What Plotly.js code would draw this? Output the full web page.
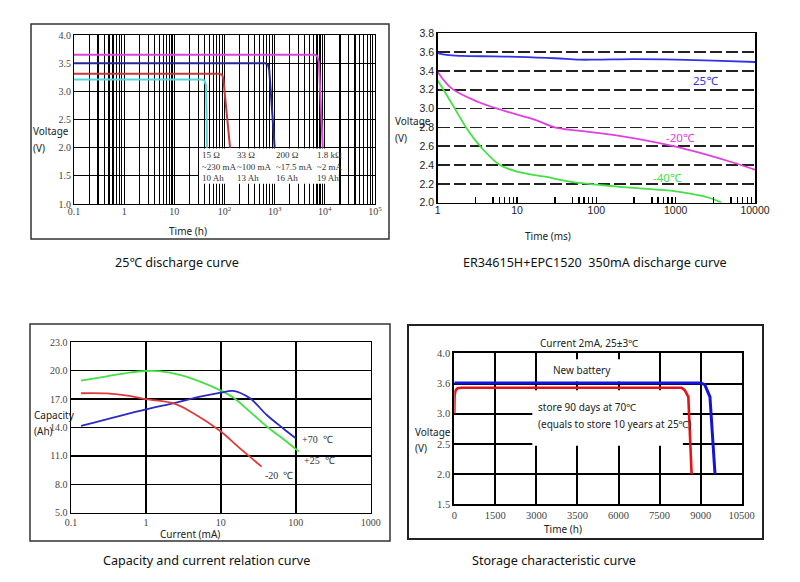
<!DOCTYPE html>
<html>
<head>
<meta charset="utf-8">
<script src="https://cdn.plot.ly/plotly-3.0.1.min.js"></script>
<style>html,body{margin:0;padding:0;background:#fff;}#chart{width:800px;height:582px;}</style>
</head>
<body>
<div id="chart"></div>
<script>
// ---------- Panel 1: 25℃ discharge curve ----------
const p1CyanT = [0.1, 35, 40, 43, 44, 44.5];
const p1CyanV = [3.21, 3.21, 3.19, 3.10, 2.60, 2.00];
const p1RedT = [0.1, 80, 90, 95, 129];
const p1RedV = [3.31, 3.31, 3.29, 3.22, 2.00];
const p1BlueT = [0.1, 650, 740, 780, 1000];
const p1BlueV = [3.50, 3.50, 3.47, 3.38, 2.00];
const p1MagT = [0.1, 6300, 7100, 7600, 9100];
const p1MagV = [3.65, 3.65, 3.62, 3.52, 2.00];
const p1Decades = [0.1, 1, 10, 100, 1000, 10000, 100000];
const p1DecadeLabels = ['0.1', '1', '10', '10<sup>2</sup>', '10<sup>3</sup>', '10<sup>4</sup>', '10<sup>5</sup>'];
const p1MinorMult = [2, 3, 4, 5, 6, 7, 8, 9];
const p1YTicks = [1.0, 1.5, 2.0, 2.5, 3.0, 3.5, 4.0];
const p1Notes = [
  '15 Ω<br>~230 mA<br>10 Ah',
  '33 Ω<br>~100 mA<br>13 Ah',
  '200 Ω<br>~17.5 mA<br>16 Ah',
  '1.8 kΩ<br>~2 mA<br>19 Ah'
];

// ---------- Panel 2: ER34615H+EPC1520 350mA ----------
const p2BlueT = [1, 1.3, 2, 5, 10, 30, 60, 100, 300, 1000, 3000, 10000];
const p2BlueV = [3.59, 3.57, 3.56, 3.555, 3.55, 3.535, 3.52, 3.52, 3.525, 3.52, 3.51, 3.495];
const p2MagT = [1, 1.5, 3.2, 6.4, 17, 30, 59, 163, 1000, 4900, 10000];
const p2MagV = [3.39, 3.215, 3.073, 2.985, 2.88, 2.80, 2.765, 2.72, 2.595, 2.435, 2.35];
const p2GreenT = [1, 1.5, 2.4, 3.6, 6.1, 10, 22.6, 54, 265, 1000, 2700, 3800];
const p2GreenV = [3.30, 3.056, 2.77, 2.58, 2.40, 2.33, 2.276, 2.215, 2.16, 2.12, 2.05, 2.00];
const p2Major = [1, 10, 100, 1000, 10000];
const p2MajorLabels = ['1', '10', '100', '1000', '10000'];
const p2MinorMult = [3, 5, 6, 7, 8, 9];
const p2Labels = ['25℃', '-20℃', '-40℃'];

// ---------- Panel 3: Capacity and current ----------
const p3GreenI = [0.136, 0.3, 0.6, 1, 1.5, 3, 5.3, 10, 14.5, 25, 41, 70, 110];
const p3GreenC = [18.95, 19.4, 19.8, 19.97, 19.95, 19.5, 18.84, 17.9, 17.19, 15.6, 14.1, 12.7, 11.45];
const p3BlueI = [0.136, 1, 2.45, 5.3, 10, 14.5, 24.5, 41, 68, 100];
const p3BlueC = [14.16, 15.92, 16.6, 17.26, 17.68, 17.86, 17.08, 15.32, 13.9, 12.86];
const p3RedI = [0.136, 0.3, 0.6, 1, 2.45, 4.3, 9.7, 18, 35];
const p3RedC = [17.62, 17.6, 17.35, 17.0, 16.5, 15.5, 13.65, 11.8, 9.87];
const p3XTicks = [0.1, 1, 10, 100, 1000];
const p3XLabels = ['0.1', '1', '10', '100', '1000'];
const p3YTicks = [5, 8, 11, 14, 17, 20, 23];
const p3Labels = ['+70  ℃', '+25  ℃', '-20  ℃'];

// ---------- Panel 4: Storage characteristic ----------
const p4BlueT = [0, 9000, 9150, 9250, 9340, 9525];
const p4BlueV = [3.51, 3.51, 3.48, 3.38, 3.28, 2.00];
const p4RedT = [0, 10, 50, 120, 250, 8300, 8420, 8550, 8670];
const p4RedV = [3.00, 3.30, 3.39, 3.42, 3.43, 3.43, 3.39, 3.28, 2.00];
const p4XTicks = [0, 1500, 3000, 4500, 6000, 7500, 9000, 10500];
const p4XLabels = ['0', '1500', '3000', '3500', '6000', '7500', '9000', '10500'];
const p4YTicks = [1.5, 2.0, 2.5, 3.0, 3.5, 4.0];
const p4YLabels = ['1.5', '2.0', '2.5', '3.0', '3.6', '4.0'];

// ---------- helpers ----------
const W = 800, H = 582;
const fx = px => px / W;
const fy = py => 1 - py / H;
const SERIF = 'Liberation Serif, Times New Roman, serif';
const SANS = 'Noto Sans, Noto Sans CJK SC, sans-serif';
const ARIAL = 'Liberation Sans, Arial, sans-serif';

// all gridline / tick positions (decades + minor multiples)
const p1AllTicks = [];
p1Decades.forEach((d, i) => {
  p1AllTicks.push(d);
  if (i < p1Decades.length - 1) p1MinorMult.forEach(m => p1AllTicks.push(d * m));
});
const p2AllTicks = [];
p2Major.forEach((d, i) => {
  p2AllTicks.push(d);
  if (i < p2Major.length - 1) p2MinorMult.forEach(m => p2AllTicks.push(d * m));
});

const traces = [
  // empty helper traces so the label-only overlay axes get drawn
  {x: [], y: [], xaxis: 'x5', yaxis: 'y', mode: 'lines', hoverinfo: 'skip'},
  {x: [], y: [], xaxis: 'x6', yaxis: 'y2', mode: 'lines', hoverinfo: 'skip'},

  {x: p1CyanT, y: p1CyanV, xaxis: 'x', yaxis: 'y', mode: 'lines', line: {color: '#55d6d6', width: 2}},
  {x: p1RedT, y: p1RedV, xaxis: 'x', yaxis: 'y', mode: 'lines', line: {color: '#c43a3a', width: 2}},
  {x: p1BlueT, y: p1BlueV, xaxis: 'x', yaxis: 'y', mode: 'lines', line: {color: '#262699', width: 2}},
  {x: p1MagT, y: p1MagV, xaxis: 'x', yaxis: 'y', mode: 'lines', line: {color: '#dd44dd', width: 2}},

  {x: p2BlueT, y: p2BlueV, xaxis: 'x2', yaxis: 'y2', mode: 'lines', line: {color: '#3333e6', width: 1.8, shape: 'spline'}},
  {x: p2MagT, y: p2MagV, xaxis: 'x2', yaxis: 'y2', mode: 'lines', line: {color: '#e040e0', width: 1.8, shape: 'spline'}},
  {x: p2GreenT, y: p2GreenV, xaxis: 'x2', yaxis: 'y2', mode: 'lines', line: {color: '#44e044', width: 1.8, shape: 'spline'}},

  {x: p3GreenI, y: p3GreenC, xaxis: 'x3', yaxis: 'y3', mode: 'lines', line: {color: '#44e044', width: 1.8, shape: 'spline'}},
  {x: p3BlueI, y: p3BlueC, xaxis: 'x3', yaxis: 'y3', mode: 'lines', line: {color: '#2a2ac4', width: 1.8, shape: 'spline'}},
  {x: p3RedI, y: p3RedC, xaxis: 'x3', yaxis: 'y3', mode: 'lines', line: {color: '#e03a3a', width: 1.8, shape: 'spline'}},

  {x: p4BlueT, y: p4BlueV, xaxis: 'x4', yaxis: 'y4', mode: 'lines', line: {color: '#1414d8', width: 3}},
  {x: p4RedT, y: p4RedV, xaxis: 'x4', yaxis: 'y4', mode: 'lines', line: {color: '#e41414', width: 2.6}}
];

const layout = {
  width: W, height: H,
  margin: {l: 0, r: 0, t: 0, b: 0},
  paper_bgcolor: '#fff', plot_bgcolor: '#fff',
  showlegend: false,
  // panel 1: main axis carries the full grid, overlay carries the decade labels
  xaxis: {domain: [fx(74), fx(375)], anchor: 'y', type: 'log', range: [-1, 5],
    tickmode: 'array', tickvals: p1AllTicks, showticklabels: false,
    showgrid: true, gridcolor: '#000', gridwidth: 1.15, ticks: '', zeroline: false,
    showline: true, linecolor: '#000', linewidth: 1, mirror: true},
  xaxis5: {overlaying: 'x', anchor: 'y', type: 'log', range: [-1, 5],
    tickmode: 'array', tickvals: p1Decades, ticktext: p1DecadeLabels,
    showgrid: false, ticks: '', zeroline: false, showline: false,
    tickfont: {family: SERIF, size: 10, color: '#444'}},
  yaxis: {domain: [fy(204), fy(35)], anchor: 'x', range: [1, 4],
    tickmode: 'array', tickvals: p1YTicks, tickformat: '.1f',
    showgrid: true, gridcolor: '#000', gridwidth: 1.1, ticks: '', zeroline: false,
    showline: true, linecolor: '#000', linewidth: 1, mirror: true,
    tickfont: {family: SERIF, size: 10, color: '#444'}},

  // panel 2: main axis carries all inside ticks, overlay carries labels
  xaxis2: {domain: [fx(437.7), fx(755)], anchor: 'y2', type: 'log', range: [0, 4],
    tickmode: 'array', tickvals: p2AllTicks, showticklabels: false,
    ticks: 'inside', ticklen: 6, tickcolor: '#000', tickwidth: 1.5,
    showgrid: false, zeroline: false,
    showline: true, linecolor: '#000', linewidth: 1.5, mirror: true},
  xaxis6: {overlaying: 'x2', anchor: 'y2', type: 'log', range: [0, 4],
    tickmode: 'array', tickvals: p2Major, ticktext: p2MajorLabels,
    ticks: '', showgrid: false, zeroline: false, showline: false,
    tickfont: {family: ARIAL, size: 10.5, color: '#222'}},
  yaxis2: {domain: [fy(202.7), fy(33.3)], anchor: 'x2', range: [2, 3.8], dtick: 0.2, tick0: 2,
    tickformat: '.1f', ticks: '',
    showgrid: true, gridcolor: '#222', gridwidth: 1.7, griddash: '12px,4px', zeroline: false,
    showline: true, linecolor: '#000', linewidth: 1.5, mirror: true,
    tickfont: {family: ARIAL, size: 10.5, color: '#222'}},

  xaxis3: {domain: [fx(71), fx(370.7)], anchor: 'y3', type: 'log', range: [-1, 3],
    tickmode: 'array', tickvals: p3XTicks, ticktext: p3XLabels,
    showgrid: true, gridcolor: '#000', gridwidth: 1.5, ticks: '', zeroline: false,
    showline: true, linecolor: '#000', linewidth: 1.5, mirror: true,
    tickfont: {family: SERIF, size: 10, color: '#444'}},
  yaxis3: {domain: [fy(512.7), fy(342.3)], anchor: 'x3', range: [5, 23],
    tickmode: 'array', tickvals: p3YTicks, tickformat: '.1f',
    showgrid: true, gridcolor: '#000', gridwidth: 1.5, ticks: '', zeroline: false,
    showline: true, linecolor: '#000', linewidth: 1.5, mirror: true,
    tickfont: {family: SERIF, size: 10, color: '#444'}},

  xaxis4: {domain: [fx(454.3), fx(741.7)], anchor: 'y4', range: [0, 10500],
    tickmode: 'array', tickvals: p4XTicks, ticktext: p4XLabels,
    showgrid: true, gridcolor: '#000', gridwidth: 2, ticks: '', zeroline: false,
    showline: true, linecolor: '#000', linewidth: 2, mirror: true,
    tickfont: {family: SERIF, size: 10.5, color: '#444'}},
  yaxis4: {domain: [fy(504.3), fy(353.3)], anchor: 'x4', range: [1.5, 4],
    tickmode: 'array', tickvals: p4YTicks, ticktext: p4YLabels,
    showgrid: true, gridcolor: '#000', gridwidth: 2, ticks: '', zeroline: false,
    showline: true, linecolor: '#000', linewidth: 2, mirror: true,
    tickfont: {family: SERIF, size: 10.5, color: '#444'}},

  shapes: [
    // outer frames
    {type: 'rect', xref: 'paper', yref: 'paper', x0: fx(31), x1: fx(389), y0: fy(239), y1: fy(24), line: {color: '#333', width: 1.5}},
    {type: 'rect', xref: 'paper', yref: 'paper', x0: fx(30), x1: fx(390), y0: fy(541), y1: fy(324), line: {color: '#333', width: 1.5}},
    {type: 'rect', xref: 'paper', yref: 'paper', x0: fx(408), x1: fx(763), y0: fy(539), y1: fy(325), line: {color: '#222', width: 2}},
    // white boxes hiding gridlines behind text
    {type: 'rect', xref: 'x', yref: 'y', x0: 31, x1: 19000, y0: 1.36, y1: 1.985, layer: 'between', fillcolor: '#fff', line: {width: 0}},
    {type: 'rect', xref: 'x4', yref: 'y4', x0: 3200, x1: 7300, y0: 3.535, y1: 3.9, layer: 'between', fillcolor: '#fff', line: {width: 0}},
    {type: 'rect', xref: 'x4', yref: 'y4', x0: 2850, x1: 8350, y0: 2.47, y1: 3.39, layer: 'between', fillcolor: '#fff', line: {width: 0}}
  ],
  annotations: []
};

const A = layout.annotations;
function note(text, px, py, opts) {
  A.push(Object.assign({text: text, xref: 'paper', yref: 'paper', x: fx(px), y: fy(py),
    showarrow: false, xanchor: 'left', yanchor: 'middle',
    font: {family: SANS, size: 10, color: '#222'}}, opts || {}));
}
// panel 1 texts
note('Voltage', 31, 131);
note('(V)', 31, 148);
note('Time (h)', 188, 231, {xanchor: 'center'});
const p1NoteX = [200, 235, 274, 315];
p1Notes.forEach((t, i) => note(t, p1NoteX[i], 166, {align: 'left', font: {family: SERIF, size: 9, color: '#333'}}));
// panel 2 texts
note('Voltage', 393, 121);
note('(V)', 393, 138);
note('Time (ms)', 548, 236, {xanchor: 'center'});
note(p2Labels[0], 705, 81, {xanchor: 'center', font: {family: SANS, size: 11.5, color: '#3333e6'}});
note(p2Labels[1], 680, 137, {xanchor: 'center', font: {family: SANS, size: 11.5, color: '#e040e0'}});
note(p2Labels[2], 667, 177, {xanchor: 'center', font: {family: SANS, size: 11.5, color: '#44e044'}});
// panel 3 texts
note('Capacity', 32, 415);
note('(Ah)', 32, 431);
note('Current (mA)', 190, 534, {xanchor: 'center'});
note(p3Labels[0], 300, 439, {font: {family: SERIF, size: 10, color: '#333'}});
note(p3Labels[1], 302, 460, {font: {family: SERIF, size: 10, color: '#333'}});
note(p3Labels[2], 263, 475, {font: {family: SERIF, size: 10, color: '#333'}});
// panel 4 texts
note('Voltage', 413, 432);
note('(V)', 413, 448);
note('Time (h)', 563, 529, {xanchor: 'center'});
note('Current 2mA, 25±3℃', 589, 343, {xanchor: 'center'});
note('New battery', 582, 370, {xanchor: 'center'});
note('store 90 days at 70℃', 536, 407);
note('(equals to store 10 years at 25℃)', 536, 424);
// captions
const CAP = {family: SANS, size: 12.6, color: '#111'};
note('25℃ discharge curve', 177, 262, {xanchor: 'center', font: CAP});
note('ER34615H+EPC1520  350mA discharge curve', 595, 262, {xanchor: 'center', font: CAP});
note('Capacity and current relation curve', 207, 560, {xanchor: 'center', font: CAP});
note('Storage characteristic curve', 554, 560, {xanchor: 'center', font: CAP});

Plotly.newPlot('chart', traces, layout, {displayModeBar: false, staticPlot: true});
</script>
</body>
</html>
